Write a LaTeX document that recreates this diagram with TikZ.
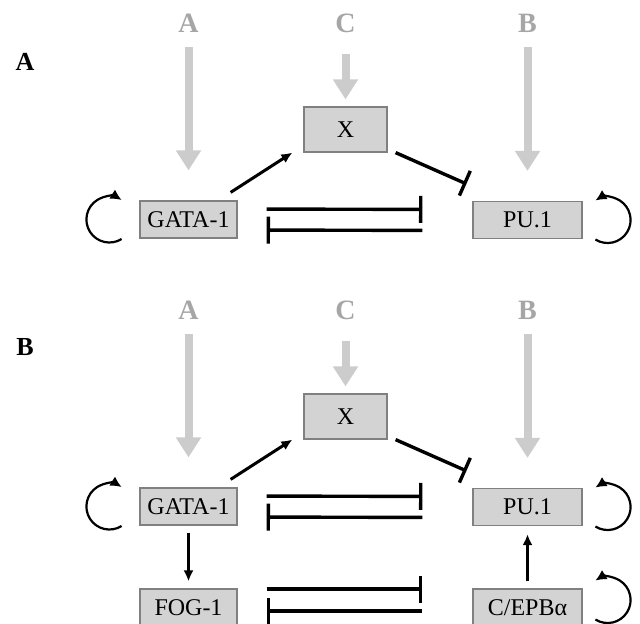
\documentclass[tikz,border=0pt]{standalone}
\usepackage{fontspec}
\setmainfont{Liberation Serif}
\usetikzlibrary{arrows.meta}
\definecolor{boxfill}{HTML}{D3D3D3}
\definecolor{boxline}{HTML}{808080}
\definecolor{feedgray}{HTML}{CCCCCC}
\definecolor{feedtext}{HTML}{A6A6A6}
\tikzset{
  genebox/.style={draw=boxline, fill=boxfill, line width=0.6pt, minimum width=48.5pt,
    minimum height=18.5pt, inner sep=0pt, font=\fontsize{12}{12}\selectfont},
  feedlabel/.style={text=feedtext, inner sep=1pt, font=\bfseries\fontsize{14}{14}\selectfont},
  panel/.style={inner sep=0pt, font=\bfseries\fontsize{13}{13}\selectfont},
  feed/.style={draw=feedgray, line width=4pt, -{Triangle[length=10pt,width=12pt]}},
  act/.style={line width=1.5pt, -{Latex[length=5.5pt,width=5pt]}},
  selfloop/.style={line width=1.1pt, -{Latex[length=5.5pt,width=5.5pt]}},
  inh/.style={line width=1.7pt, -{Bar[width=13.5pt]}},
}
\begin{document}
\begin{tikzpicture}[x=0.5pt, y=-0.5pt]
  \useasboundingbox (0,0) rectangle (640,623);
  % panel A
  \node[panel] (pa) at (25,62) {A};
  \node[feedlabel] (fa1) at (188.5,23) {A};
  \node[feedlabel] (fc1) at (345.5,23) {C};
  \node[feedlabel] (fb1) at (527.5,23) {B};
  \node[genebox, minimum width=41.5pt, minimum height=22.5pt] (x1) at (345.5,129.5) {X};
  \node[genebox] (gata1) at (188.5,219.5) {GATA-1};
  \node[genebox, minimum width=54.5pt] (pu1) at (527.5,220) {PU.1};
  \draw[feed, shorten <=6pt, shorten >=15pt] (fa1) -- (gata1);
  \draw[feed, shorten <=9.5pt, shorten >=3.5pt] (fc1) -- (x1);
  \draw[feed, shorten <=6pt, shorten >=15pt] (fb1) -- (pu1);
  \draw[act] ([xshift=-3.5pt,yshift=4pt]gata1.north east) -- ([xshift=-5.5pt]x1.south west);
  \draw[inh] ([xshift=4pt]x1.south east) -- ([xshift=-3pt,yshift=8.5pt]pu1.north west);
  \draw[inh, shorten <=14.5pt, shorten >=25pt] ([yshift=5.25pt]gata1.east) -- ([yshift=5.25pt]pu1.west);
  \draw[inh, shorten <=25pt, shorten >=14.5pt] ([yshift=-5.25pt]pu1.west) -- ([yshift=-5.25pt]gata1.east);
  \draw[selfloop] ([xshift=-8.9pt,yshift=-9.75pt]gata1.west) arc[start angle=-58, end angle=-302, radius=11.5pt];
  \draw[selfloop] ([xshift=6.4pt,yshift=-9.75pt]pu1.east) arc[start angle=-122, end angle=122, radius=11.5pt];
  % panel B
  \node[panel] (pb) at (25,347) {B};
  \node[feedlabel] (fa2) at (188.5,310) {A};
  \node[feedlabel] (fc2) at (345.5,310) {C};
  \node[feedlabel] (fb2) at (527.5,310) {B};
  \node[genebox, minimum width=41.5pt, minimum height=22.5pt] (x2) at (345.5,416.5) {X};
  \node[genebox] (gata2) at (188.5,506.5) {GATA-1};
  \node[genebox, minimum width=54.5pt] (pu2) at (527.5,507) {PU.1};
  \node[genebox] (fog) at (188.5,607.5) {FOG-1};
  \node[genebox, minimum width=54.5pt] (cebp) at (527.5,607.5) {C/EPBα};
  \draw[feed, shorten <=6pt, shorten >=15pt] (fa2) -- (gata2);
  \draw[feed, shorten <=9.5pt, shorten >=3.5pt] (fc2) -- (x2);
  \draw[feed, shorten <=6pt, shorten >=15pt] (fb2) -- (pu2);
  \draw[act] ([xshift=-3.5pt,yshift=4pt]gata2.north east) -- ([xshift=-5.5pt]x2.south west);
  \draw[inh] ([xshift=4pt]x2.south east) -- ([xshift=-3pt,yshift=8.5pt]pu2.north west);
  \draw[inh, shorten <=14.5pt, shorten >=25pt] ([yshift=5.25pt]gata2.east) -- ([yshift=5.25pt]pu2.west);
  \draw[inh, shorten <=25pt, shorten >=14.5pt] ([yshift=-5.25pt]pu2.west) -- ([yshift=-5.25pt]gata2.east);
  \draw[selfloop] ([xshift=-8.9pt,yshift=-9.75pt]gata2.west) arc[start angle=-58, end angle=-302, radius=11.5pt];
  \draw[selfloop] ([xshift=6.4pt,yshift=-9.75pt]pu2.east) arc[start angle=-122, end angle=122, radius=11.5pt];
  \draw[act, shorten <=3.5pt, shorten >=3.5pt] (gata2) -- (fog);
  \draw[act, shorten <=3.5pt, shorten >=4pt] (cebp) -- (pu2);
  \draw[inh, shorten <=14.5pt, shorten >=25pt] ([yshift=9.25pt]fog.east) -- ([yshift=9.25pt]cebp.west);
  \draw[inh, shorten <=25pt, shorten >=14.5pt] ([yshift=-1.75pt]cebp.west) -- ([yshift=-1.75pt]fog.east);
  \draw[selfloop] ([xshift=6.4pt,yshift=-6pt]cebp.east) arc[start angle=-122, end angle=122, radius=11.5pt];
\end{tikzpicture}
\end{document}
